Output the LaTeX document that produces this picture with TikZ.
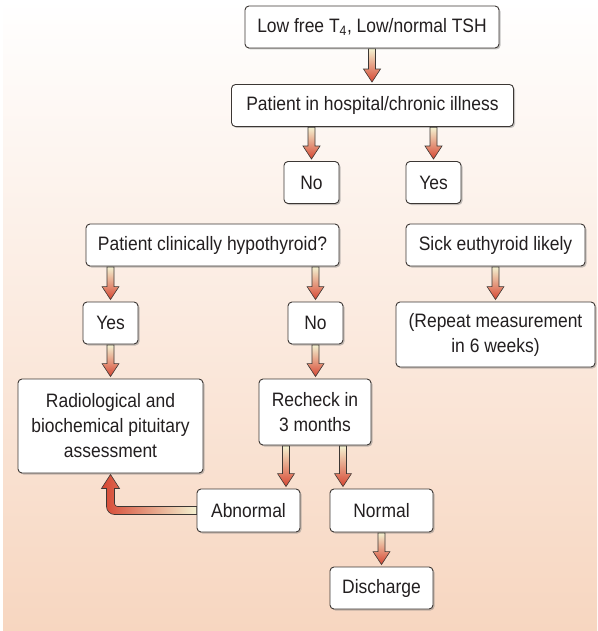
\documentclass[tikz,border=0pt]{standalone}
\usepackage{fontspec}
\setmainfont{Liberation Sans}[FakeStretch=0.9]
\usetikzlibrary{calc,shadows}

\definecolor{peach}{RGB}{247,214,192}
\definecolor{cream}{RGB}{244,241,208}
\definecolor{arrowred}{RGB}{214,70,50}
\definecolor{edgegray}{RGB}{60,55,52}
\definecolor{inkgray}{RGB}{35,31,32}

\tikzset{
	box/.style={draw=edgegray, line width=0.9pt, fill=white, rounded corners=4pt,
		align=center, inner sep=0pt, text=inkgray, font=\fontsize{19.4}{25}\selectfont,
		drop shadow={shadow xshift=1.5pt, shadow yshift=-1.5pt, opacity=0.45}},
	arr/.style={draw=edgegray, line width=0.6pt, top color=cream, bottom color=arrowred},
	bentarr/.style={draw=edgegray, line width=0.6pt, left color=arrowred, right color=cream}
}

% straight arrow down from #1 to the level of #2
\newcommand{\flowarrow}[2]{%
	\path[arr] let \p1=(#1), \p2=(#2) in
	(\x1-3.5pt,\y1-0.5pt) -- (\x1-3.5pt,\y2+15pt) -- (\x1-8.5pt,\y2+15pt) -- (\x1,\y2+2pt)
	-- (\x1+8.5pt,\y2+15pt) -- (\x1+3.5pt,\y2+15pt) -- (\x1+3.5pt,\y1-0.5pt) -- cycle;}

% arrow going left from #1, then up to #2
\newcommand{\bentarrow}[2]{%
	\path[bentarr] let \p1=(#1), \p2=(#2) in
	(\x1,\y1+4pt) -- (\x2+7pt,\y1+4pt) arc[start angle=270,end angle=180,radius=3pt]
	-- (\x2+4pt,\y2-15pt) -- (\x2+9pt,\y2-15pt) -- (\x2,\y2-1pt) -- (\x2-9pt,\y2-15pt)
	-- (\x2-4pt,\y2-15pt) -- (\x2-4pt,\y1+4pt) arc[start angle=180,end angle=270,radius=8pt]
	-- (\x1,\y1-4pt) -- cycle;}

\begin{document}
\begin{tikzpicture}[x=1pt,y=-1pt]
	\useasboundingbox (0,0) rectangle (597,631);
	\shade[top color=white, bottom color=peach] (3,0) rectangle (597,631);

	\node[box, minimum width=254, minimum height=42] (lowT) at (372,27) {Low free T\textsubscript{4}, Low/normal TSH};
	\node[box, minimum width=282, minimum height=42] (hosp) at (372.5,105.5) {Patient in hospital/chronic illness};
	\node[box, minimum width=55, minimum height=42] (noA) at (311.5,182.5) {No};
	\node[box, minimum width=55, minimum height=42] (yesA) at (433.5,182.5) {Yes};

	\node[box, minimum width=253, minimum height=42] (hypo) at (212.5,245) {Patient clinically hypothyroid?};
	\node[box, minimum width=179, minimum height=42] (sick) at (495.5,245) {Sick euthyroid likely};
	\node[box, minimum width=55, minimum height=42] (yesB) at (110.5,323) {Yes};
	\node[box, minimum width=55, minimum height=42] (noB) at (315.5,323) {No};
	\node[box, minimum width=199, minimum height=65] (repeat) at (495.5,334.5) {(Repeat measurement\\in 6 weeks)};

	\node[box, minimum width=185, minimum height=94] (radio) at (110.5,426) {Radiological and\\biochemical pituitary\\assessment};
	\node[box, minimum width=112, minimum height=66] (recheck) at (315,412) {Recheck in\\3 months};
	\node[box, minimum width=103, minimum height=43] (abnormal) at (248.5,510.5) {Abnormal};
	\node[box, minimum width=103, minimum height=43] (normal) at (381.5,510.5) {Normal};
	\node[box, minimum width=103, minimum height=42] (discharge) at (381.5,588) {Discharge};

	\flowarrow{lowT.south}{hosp.north}
	\flowarrow{hosp.south -| noA.north}{noA.north}
	\flowarrow{hosp.south -| yesA.north}{yesA.north}
	\flowarrow{hypo.south -| yesB.north}{yesB.north}
	\flowarrow{hypo.south -| noB.north}{noB.north}
	\flowarrow{sick.south}{repeat.north}
	\flowarrow{yesB.south}{radio.north}
	\flowarrow{noB.south}{recheck.north}
	\flowarrow{$(recheck.south)+(-29,0)$}{abnormal.north}
	\flowarrow{$(recheck.south)+(28,0)$}{normal.north}
	\flowarrow{normal.south}{discharge.north}
	\bentarrow{abnormal.west}{radio.south}
\end{tikzpicture}
\end{document}
